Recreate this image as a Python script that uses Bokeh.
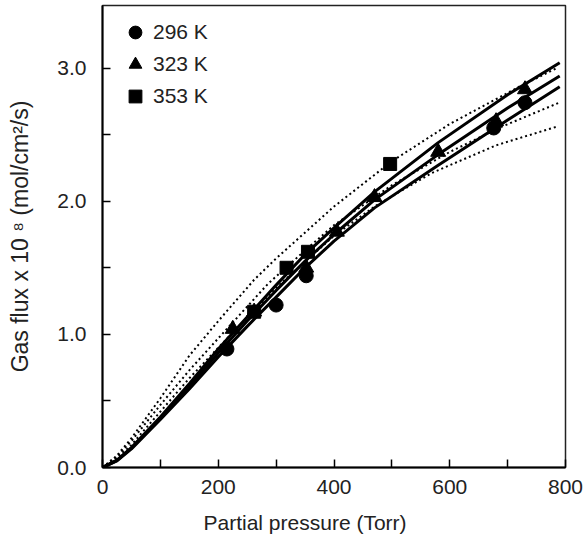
from bokeh.plotting import figure
from bokeh.models import Range1d, FixedTicker, Legend, LegendItem, Title
from bokeh.embed import file_html
from bokeh.resources import INLINE

# measured data points
x_296 = [215, 300, 352, 676, 730]
y_296 = [0.89, 1.22, 1.44, 2.55, 2.74]
x_323 = [225, 262, 352, 405, 470, 580, 680, 730]
y_323 = [1.04, 1.17, 1.50, 1.77, 2.03, 2.37, 2.60, 2.84]
x_353 = [262, 318, 355, 497]
y_353 = [1.17, 1.50, 1.62, 2.28]

# fitted curves
xs_solid = [0, 25, 50, 100, 150, 200, 250, 300, 350, 400, 470, 580, 700, 790]
y_solid_top = [0, 0.055, 0.15, 0.38, 0.63, 0.89, 1.13, 1.37, 1.60, 1.80, 2.07, 2.44, 2.80, 3.04]
y_solid_mid = [0, 0.053, 0.145, 0.37, 0.61, 0.86, 1.10, 1.33, 1.55, 1.75, 2.01, 2.35, 2.70, 2.94]
y_solid_bot = [0, 0.050, 0.14, 0.36, 0.59, 0.83, 1.06, 1.28, 1.50, 1.70, 1.95, 2.27, 2.61, 2.86]

xs_dot1 = [0, 25, 50, 100, 150, 200, 262, 300, 400, 500, 600, 720, 785]
ys_dot1 = [0, 0.09, 0.22, 0.52, 0.84, 1.10, 1.41, 1.57, 1.96, 2.30, 2.58, 2.86, 3.00]
xs_dot2 = [0, 25, 50, 100, 150, 200, 286, 350, 400, 500, 600, 690, 789]
ys_dot2 = [0, 0.08, 0.20, 0.47, 0.73, 0.97, 1.38, 1.63, 1.82, 2.12, 2.37, 2.56, 2.74]
xs_dot3 = [0, 25, 50, 100, 150, 200, 300, 400, 470, 568, 680, 785]
ys_dot3 = [0, 0.07, 0.17, 0.42, 0.67, 0.90, 1.35, 1.74, 1.96, 2.21, 2.42, 2.56]

legend_labels = ["296 K", "323 K", "353 K"]
x_ticks = [0, 200, 400, 600, 800]
y_ticks = [0, 1, 2, 3]
x_title = "Partial pressure (Torr)"
y_title = "Gas flux x 10 \u2078 (mol/cm\u00b2/s)"

FONT = "Liberation Sans"

p = figure(width=585, height=548, output_backend="svg", toolbar_location=None,
           x_range=Range1d(0, 800), y_range=Range1d(0, 3.47),
           min_border_left=102, min_border_right=20, min_border_top=5, min_border_bottom=81)
p.grid.visible = False
p.background_fill_color = "white"
p.border_fill_color = "white"
p.outline_line_color = "#222222"
p.outline_line_width = 1.5

for ys in (y_solid_top, y_solid_mid, y_solid_bot):
    p.line(xs_solid, ys, line_color="black", line_width=3)
for xs, ys in ((xs_dot1, ys_dot1), (xs_dot2, ys_dot2), (xs_dot3, ys_dot3)):
    p.line(xs, ys, line_color="black", line_width=2, line_dash="2 3")

r1 = p.scatter(x_296, y_296, marker="circle", size=14, color="black")
r2 = p.scatter(x_323, y_323, marker="triangle", size=15, color="black")
r3 = p.scatter(x_353, y_353, marker="square", size=13, color="black")

legend = Legend(items=[LegendItem(label=legend_labels[0], renderers=[r1]),
                       LegendItem(label=legend_labels[1], renderers=[r2]),
                       LegendItem(label=legend_labels[2], renderers=[r3])],
                location=(17, 355), padding=0, margin=0, spacing=0,
                glyph_width=32, glyph_height=32, label_height=32, label_standoff=2,
                label_text_font=FONT, label_text_font_size="21px",
                label_text_color="#222222",
                background_fill_alpha=0, border_line_alpha=0)
p.add_layout(legend, "center")

for ax in (p.xaxis[0], p.yaxis[0]):
    ax.axis_line_width = 2
    ax.axis_line_color = "black"
    ax.major_tick_in = 8
    ax.major_tick_out = 0
    ax.minor_tick_in = 8
    ax.minor_tick_out = 0
    ax.major_tick_line_width = 1.5
    ax.minor_tick_line_width = 1.5
    ax.major_label_text_font = FONT
    ax.major_label_text_font_size = "21px"
    ax.major_label_text_color = "#222222"
    ax.axis_label_text_font = FONT
    ax.axis_label_text_font_style = "normal"
    ax.axis_label_text_color = "#222222"

p.yaxis.axis_label_text_font_size = "23px"
p.xaxis.ticker = FixedTicker(ticks=x_ticks, minor_ticks=[100, 300, 500, 700])
p.yaxis.ticker = FixedTicker(ticks=y_ticks, minor_ticks=[0.5, 1.5, 2.5])
p.yaxis.major_label_overrides = {t: f"{t:.1f}" for t in y_ticks}
p.xaxis.major_label_standoff = 12
p.yaxis.major_label_standoff = 16
p.yaxis.axis_label = y_title
p.yaxis.axis_label_standoff = 21

xt = Title(text=x_title, align="left", offset=101, standoff=25,
           text_font=FONT, text_font_size="21px", text_font_style="normal",
           text_color="#222222")
p.add_layout(xt, "below")

open("out.html", "w").write(file_html(p, INLINE))
